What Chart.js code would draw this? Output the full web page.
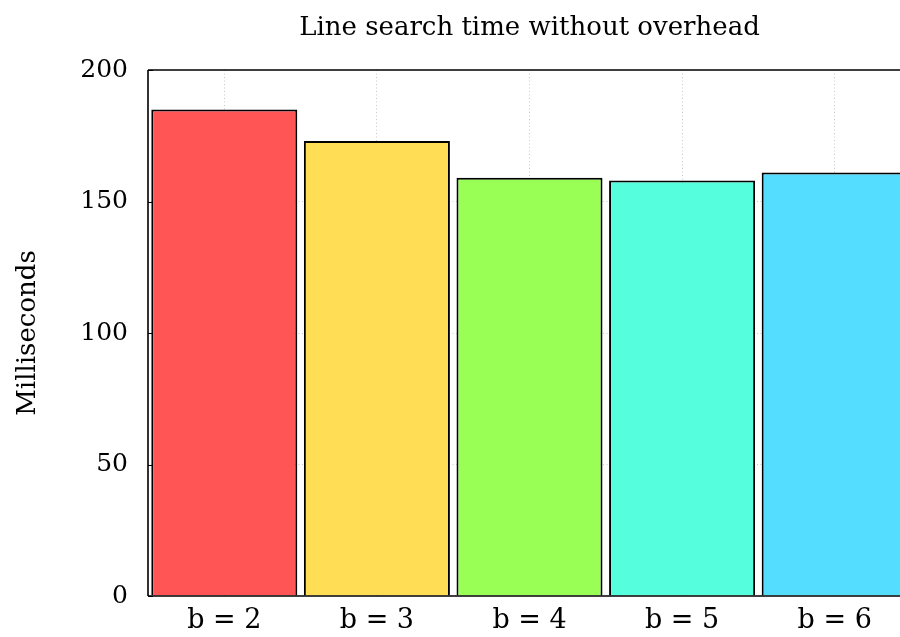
<!DOCTYPE html>
<html>
<head>
<meta charset="utf-8">
<script src="https://cdn.jsdelivr.net/npm/chart.js@4.4.1/dist/chart.umd.min.js"></script>
<style>
html,body{margin:0;padding:0;background:#fff;overflow:hidden;width:900px;height:637px;}
#wrap{width:912px;height:637px;}
</style>
</head>
<body>
<div id="wrap"><canvas id="c" width="912" height="637"></canvas></div>
<script>
const categories = ["b = 2", "b = 3", "b = 4", "b = 5", "b = 6"];
const values = [185, 173, 159, 158, 161];
const barColors = ["#FF5555", "#FFDD55", "#99FF55", "#55FFDD", "#55DDFF"];
const yTicks = [0, 50, 100, 150, 200];
const chartTitle = "Line search time without overhead";
const yTitle = "Milliseconds";

const SERIF = "'DejaVu Serif', 'Liberation Serif', serif";

const framePlugin = {
  id: 'frame',
  afterDatasetsDraw(chart) {
    const {ctx, chartArea: a, scales: {y}} = chart;
    ctx.save();
    ctx.strokeStyle = '#000';
    ctx.lineWidth = 1.6;
    ctx.beginPath();
    ctx.moveTo(a.left, a.top); ctx.lineTo(a.right, a.top);
    ctx.moveTo(a.left, a.bottom); ctx.lineTo(a.right, a.bottom);
    ctx.moveTo(a.left, a.top); ctx.lineTo(a.left, a.bottom);
    ctx.moveTo(a.right, a.top); ctx.lineTo(a.right, a.bottom);
    ctx.stroke();
    ctx.lineWidth = 1;
    ctx.beginPath();
    yTicks.forEach(v => {
      const py = Math.round(y.getPixelForValue(v)) + 0.5;
      ctx.moveTo(a.left, py); ctx.lineTo(a.left + 5, py);
      ctx.moveTo(a.right, py); ctx.lineTo(a.right - 5, py);
    });
    ctx.stroke();
    ctx.restore();
  }
};

new Chart(document.getElementById('c'), {
  type: 'bar',
  data: {
    labels: categories,
    datasets: [{
      data: values,
      backgroundColor: barColors,
      borderColor: '#000',
      borderWidth: 2,
      barPercentage: 0.957,
      categoryPercentage: 1.0
    }]
  },
  options: {
    responsive: false,
    animation: false,
    layout: {padding: {top: 0, right: 1, bottom: 0, left: 0}},
    plugins: {
      legend: {display: false},
      tooltip: {enabled: false},
      title: {
        display: true,
        text: chartTitle,
        fullSize: false,
        color: '#000',
        font: {family: SERIF, size: 26, weight: 'normal'},
        padding: {top: 13, bottom: 25.8}
      }
    },
    scales: {
      x: {
        afterFit(scale) { scale.height = 41; },
        grid: {
          offset: false,
          color: '#c8c8c8',
          lineWidth: 1,
          drawTicks: false
        },
        border: {display: false, dash: [1, 2.5]},
        ticks: {
          color: '#000',
          font: {family: SERIF, size: 27},
          padding: 9
        }
      },
      y: {
        min: 0,
        max: 200,
        afterFit(scale) { scale.width = 148; },
        afterBuildTicks(scale) { scale.ticks = yTicks.map(v => ({value: v})); },
        grid: {
          color: ctx => (ctx.tick && (ctx.tick.value === 0 || ctx.tick.value === 200)) ? 'rgba(0,0,0,0)' : '#c8c8c8',
          lineWidth: 1,
          drawTicks: false
        },
        border: {display: false, dash: [1, 2.5]},
        ticks: {
          color: '#000',
          font: {family: SERIF, size: 25},
          padding: 20
        },
        title: {
          display: true,
          text: yTitle,
          color: '#000',
          font: {family: SERIF, size: 26},
          padding: {top: 13, bottom: 0}
        }
      }
    }
  },
  plugins: [framePlugin]
});
</script>
</body>
</html>
